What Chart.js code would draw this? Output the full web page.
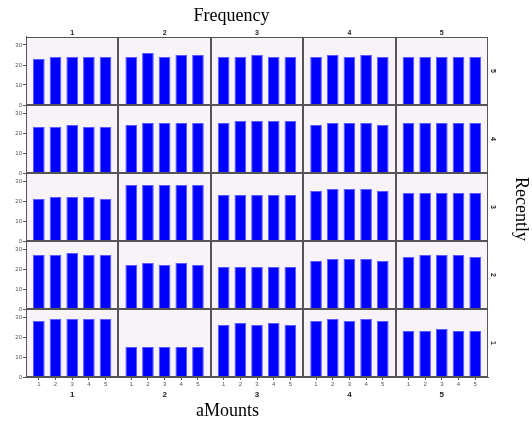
<!DOCTYPE html>
<html>
<head>
<meta charset="utf-8">
<script src="https://cdn.jsdelivr.net/npm/chart.js@4"></script>
<style>
  html, body { margin: 0; padding: 0; background: #fff; }
</style>
</head>
<body>
<canvas id="trellis" width="532" height="424"></canvas>
<script>
// panels: columns = Frequency, rows = Recently (top to bottom), bars = aMounts
const frequency = ['1', '2', '3', '4', '5'];
const recently = ['5', '4', '3', '2', '1'];
const amounts = [1, 2, 3, 4, 5];
const yTicks = [0, 10, 20, 30];

// one array per row, each holding the 5 panels (Frequency 1..5)
const recently5 = [[23,24,24,24,24],[24,26,24,25,25],[24,24,25,24,24],[24,25,24,25,24],[24,24,24,24,24]];
const recently4 = [[23,23,24,23,23],[24,25,25,25,25],[25,26,26,26,26],[24,25,25,25,24],[25,25,25,25,25]];
const recently3 = [[21,22,22,22,21],[28,28,28,28,28],[23,23,23,23,23],[25,26,26,26,25],[24,24,24,24,24]];
const recently2 = [[27,27,28,27,27],[22,23,22,23,22],[21,21,21,21,21],[24,25,25,25,24],[26,27,27,27,26]];
const recently1 = [[28,29,29,29,29],[15,15,15,15,15],[26,27,26,27,26],[28,29,28,29,28],[23,23,24,23,23]];

const rowData = { '5': recently5, '4': recently4, '3': recently3, '2': recently2, '1': recently1 };

const small = { family: '"Liberation Sans", Arial, sans-serif', size: 6 };
const label = { family: '"Liberation Sans", Arial, sans-serif', size: 8, weight: 'bold' };
const frameColor = '#555';

const scales = {};

// left axes: left boxes are stacked in reverse order, so define bottom row first
recently.slice().reverse().forEach(r => {
  scales['y' + r] = {
    type: 'linear', position: 'left', stack: 'rows', stackWeight: 1,
    min: 0, max: 34,
    afterBuildTicks: s => { s.ticks = yTicks.map(v => ({ value: v })); },
    afterFit: s => { s.width = 26; },
    ticks: { font: small, color: '#555', padding: 1 },
    grid: { drawOnChartArea: false, tickLength: 3, color: frameColor },
    border: { color: frameColor }
  };
});

// bottom axes with aMounts ticks
frequency.forEach(f => {
  scales['x' + f] = {
    type: 'linear', position: 'bottom', stack: 'cols', stackWeight: 1,
    offset: false, min: 0.23, max: 5.77,
    afterBuildTicks: s => { s.ticks = amounts.map(v => ({ value: v })); },
    afterFit: s => { s.height = 24; },
    ticks: { font: small, color: '#555', padding: 1, maxRotation: 0, autoSkip: false },
    grid: { drawOnChartArea: false, tickLength: 3, color: frameColor, offset: false },
    border: { color: frameColor },
    title: { display: true, text: f, font: label, color: '#222', padding: { top: 0, bottom: 1 } }
  };
});

// top headers (top boxes also reversed)
frequency.slice().reverse().forEach(f => {
  scales['t' + f] = {
    type: 'linear', position: 'top', stack: 'colsTop', stackWeight: 1,
    afterFit: s => { s.height = 9; },
    ticks: { display: false }, grid: { display: false }, border: { display: false },
    title: { display: true, text: f, font: { ...label, size: 7 }, color: '#222', padding: { top: 1, bottom: 0 } }
  };
});

// right headers
recently.forEach(r => {
  scales['r' + r] = {
    type: 'linear', position: 'right', stack: 'rowsRight', stackWeight: 1,
    afterFit: s => { s.width = 10; },
    ticks: { display: false }, grid: { display: false }, border: { display: false },
    title: { display: true, text: r, font: { ...label, size: 7 }, color: '#222', padding: { top: 1, bottom: 0 } }
  };
});

const datasets = [];
recently.forEach(r => {
  frequency.forEach((f, c) => {
    datasets.push({
      data: amounts.map((a, k) => ({ x: a, y: rowData[r][c][k] })),
      xAxisID: 'x' + f,
      yAxisID: 'y' + r,
      backgroundColor: '#0000ff',
      borderColor: '#5a5aff',
      borderWidth: 1,
      barPercentage: 0.7,
      categoryPercentage: 1,
      grouped: false
    });
  });
});

const panels = {
  id: 'panels',
  beforeDraw(chart) {
    const ctx = chart.ctx;
    ctx.save();
    ctx.fillStyle = '#f7f3f8';
    recently.forEach(r => {
      const ys = chart.scales['y' + r];
      frequency.forEach(f => {
        const xs = chart.scales['x' + f];
        ctx.fillRect(xs.left, ys.top, xs.right - xs.left, ys.bottom - ys.top);
      });
    });
    ctx.restore();
  },
  afterDatasetsDraw(chart) {
    const ctx = chart.ctx;
    ctx.save();
    ctx.strokeStyle = frameColor;
    ctx.lineWidth = 1;
    recently.forEach(r => {
      const ys = chart.scales['y' + r];
      frequency.forEach(f => {
        const xs = chart.scales['x' + f];
        const x0 = Math.round(xs.left) + 0.5, x1 = Math.round(xs.right) - 0.5;
        const y0 = Math.round(ys.top) + 0.5, y1 = Math.round(ys.bottom) - 0.5;
        ctx.strokeRect(x0, y0, x1 - x0, y1 - y0);
      });
    });
    ctx.restore();
  },
  afterDraw(chart) {
    const ctx = chart.ctx;
    const a = chart.chartArea;
    ctx.save();
    ctx.font = '18px "Liberation Serif", "Times New Roman", serif';
    ctx.fillStyle = '#000';
    ctx.textAlign = 'center';
    ctx.textBaseline = 'middle';
    ctx.fillText('Frequency', a.left + 0.445 * (a.right - a.left), 16);
    ctx.fillText('aMounts', a.left + 0.436 * (a.right - a.left), 411);
    ctx.translate(521, (a.top + a.bottom) / 2 + 2);
    ctx.rotate(Math.PI / 2);
    ctx.fillText('Recently', 0, 0);
    ctx.restore();
  }
};

new Chart(document.getElementById('trellis'), {
  type: 'bar',
  data: { datasets },
  options: {
    responsive: false,
    animation: false,
    layout: { padding: { top: 28, right: 34, bottom: 23, left: 0 } },
    scales,
    plugins: { legend: { display: false }, tooltip: { enabled: false } }
  },
  plugins: [panels]
});
</script>
</body>
</html>
